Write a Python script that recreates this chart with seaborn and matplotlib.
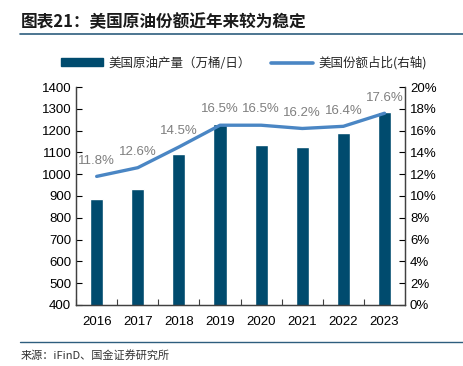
import numpy as np
import pandas as pd
import seaborn as sns
import matplotlib.pyplot as plt
from matplotlib.patches import Patch
from matplotlib.lines import Line2D
from matplotlib.ticker import FuncFormatter, MultipleLocator

years = ['2016', '2017', '2018', '2019', '2020', '2021', '2022', '2023']
output = [886, 933, 1094, 1229, 1133, 1126, 1189, 1287]   # 万桶/日
share = [11.8, 12.6, 14.5, 16.5, 16.5, 16.2, 16.4, 17.6]  # %

bar_color = '#004B6E'
line_color = '#4A86C4'

sns.set_style('white')
plt.rcParams['font.family'] = ['Liberation Sans', 'Noto Sans CJK SC', 'DejaVu Sans']

df = pd.DataFrame({'year': years, 'output': output, 'share': share})

fig = plt.figure(figsize=(4.64, 3.66), dpi=100)
ax = fig.add_axes([0.164, 0.167, 0.709, 0.595])

sns.barplot(data=df, x='year', y='output', color=bar_color, width=0.32,
            saturation=1, ax=ax)
ax.set_ylim(400, 1400)
ax.yaxis.set_major_locator(MultipleLocator(100))
ax.set_xlabel('')
ax.set_ylabel('')

ax2 = ax.twinx()
sns.pointplot(data=df, x='year', y='share', color=line_color, markers='',
              linewidth=2.4, ax=ax2)
ax2.set_ylim(0, 20)
ax2.yaxis.set_major_locator(MultipleLocator(2))
ax2.yaxis.set_major_formatter(FuncFormatter(lambda v, p: f'{v:.0f}%'))
ax2.set_ylabel('')
ax2.set_xlim(-0.5, len(years) - 0.5)

for i, v in enumerate(share):
    ax2.annotate(f'{v:.1f}%', (i, v), xytext=(0, 7), textcoords='offset points',
                 ha='center', va='bottom', fontsize=9.5, color='#7F7F7F')

for a in (ax, ax2):
    for s in ('left', 'right', 'bottom'):
        a.spines[s].set_visible(True)
        a.spines[s].set_color('#404040')
        a.spines[s].set_linewidth(0.9)
    a.spines['top'].set_visible(False)
    a.tick_params(labelsize=9.5, colors='black', direction='in', length=4, width=0.8)

ax.tick_params(axis='y', left=True)
ax2.tick_params(axis='y', right=True)
ax.tick_params(axis='x', bottom=False, pad=8)
ax.set_xticks(np.arange(len(years)) - 0.5, minor=True)
ax.tick_params(axis='x', which='minor', bottom=True, direction='in', length=4, width=0.8, color='#404040')

handles = [Patch(color=bar_color), Line2D([0], [0], color=line_color, lw=2.6)]
fig.legend(handles, ['美国原油产量（万桶/日）', '美国份额占比(右轴)'],
           loc='center', bbox_to_anchor=(0.525, 0.828), ncol=2, frameon=False,
           handlelength=3.4, handleheight=0.6, handletextpad=0.4, columnspacing=1.6,
           prop={'family': ['Noto Sans CJK SC', 'DejaVu Sans'], 'size': 9})

fig.text(0.045, 0.94, '图表21：美国原油份额近年来较为稳定', fontsize=12,
         fontweight='bold', fontstyle='italic', color='#1A1A1A',
         family=['Noto Sans CJK SC', 'DejaVu Sans'], va='center')
fig.add_artist(Line2D([0.043, 1.0], [0.908, 0.908], color='#2E5E7E', lw=1.2))
fig.add_artist(Line2D([0.043, 1.0], [0.066, 0.066], color='#2E5E7E', lw=1.0))
fig.text(0.045, 0.030, '来源：iFinD、国金证券研究所', fontsize=8, color='#333333',
         family=['Noto Sans CJK SC', 'DejaVu Sans'], va='center')

fig.savefig('out.png', dpi=100)
